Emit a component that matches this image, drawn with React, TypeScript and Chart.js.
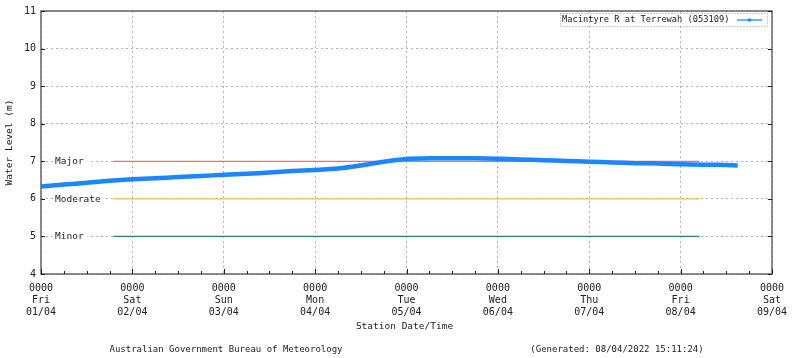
import React, { useEffect, useRef } from "react";
import { Chart, registerables } from "chart.js";

Chart.register(...registerables);

// Hours since 0000 Fri 01/04
const levelHours = [0, 6, 12, 18, 24, 30, 36, 42, 48, 54, 60, 66, 72, 78, 84, 90, 96, 102, 108, 114, 120, 126, 132, 138, 144, 150, 156, 162, 168, 174, 180, 183];
const levelValues = [6.33, 6.38, 6.43, 6.48, 6.52, 6.55, 6.58, 6.61, 6.64, 6.67, 6.70, 6.74, 6.77, 6.81, 6.89, 6.99, 7.06, 7.08, 7.08, 7.08, 7.07, 7.05, 7.03, 7.01, 6.99, 6.97, 6.95, 6.94, 6.92, 6.91, 6.90, 6.89];

const thresholdNames = ["Major", "Moderate", "Minor"];
const thresholdLevels = [7, 6, 5];
const thresholdColors = ["#ff6a6a", "#f2c040", "#2f8a55"];
const thresholdStart = 19;
const thresholdEnd = 173;

const dayNames = ["Fri", "Sat", "Sun", "Mon", "Tue", "Wed", "Thu", "Fri", "Sat"];
const dayDates = ["01/04", "02/04", "03/04", "04/04", "05/04", "06/04", "07/04", "08/04", "09/04"];
const timeLabel = "0000";

const seriesName = "Macintyre R at Terrewah (053109)";
const yTitle = "Water Level (m)";
const xTitle = "Station Date/Time";
const footerLeft = "Australian Government Bureau of Meteorology";
const footerRight = "(Generated: 08/04/2022 15:11:24)";

const FONT = "'DejaVu Sans Mono', 'Liberation Mono', monospace";
const BLUE = "#1a86ff";

export default function App() {
  const ref = useRef<HTMLCanvasElement | null>(null);

  useEffect(() => {
    document.body.style.margin = "0";
    const canvas = ref.current;
    if (!canvas) return;

    const decor = {
      id: "decor",
      beforeDatasetsDraw(chart: any) {
        const { ctx, chartArea } = chart;
        const y = chart.scales.y;
        ctx.save();
        ctx.font = `9.5px ${FONT}`;
        ctx.textBaseline = "middle";
        ctx.textAlign = "left";
        thresholdNames.forEach((n, i) => {
          const py = y.getPixelForValue(thresholdLevels[i]);
          const w = ctx.measureText(n).width;
          ctx.fillStyle = "#ffffff";
          ctx.fillRect(chartArea.left + 12, py - 5, w + 6, 10);
          ctx.fillStyle = "#222";
          ctx.fillText(n, chartArea.left + 14, py + 0.5);
        });
        ctx.restore();
      },
      afterDraw(chart: any) {
        const { ctx, chartArea } = chart;
        const x = chart.scales.x;
        const y = chart.scales.y;
        const { left, right, top, bottom } = chartArea;
        ctx.save();
        // frame
        ctx.strokeStyle = "#666";
        ctx.lineWidth = 1.5;
        ctx.strokeRect(left, top, right - left, bottom - top);
        // ticks
        ctx.strokeStyle = "#222";
        ctx.lineWidth = 1;
        for (let v = 4; v <= 11; v++) {
          const py = Math.round(y.getPixelForValue(v)) + 0.5;
          ctx.beginPath();
          ctx.moveTo(left, py);
          ctx.lineTo(left + 4, py);
          ctx.moveTo(right - 4, py);
          ctx.lineTo(right, py);
          ctx.stroke();
        }
        for (let h = 0; h <= 192; h += 6) {
          const px = Math.round(x.getPixelForValue(h)) + 0.5;
          const len = h % 24 === 0 ? 5 : 3;
          ctx.beginPath();
          ctx.moveTo(px, bottom);
          ctx.lineTo(px, bottom - len);
          ctx.stroke();
        }
        // legend
        ctx.font = `8.7px ${FONT}`;
        ctx.textBaseline = "middle";
        ctx.textAlign = "left";
        ctx.fillStyle = "#222";
        const tx = 562;
        const ly = 20;
        ctx.fillText(seriesName, tx, ly);
        ctx.strokeStyle = "#999";
        ctx.setLineDash([1, 2]);
        ctx.strokeRect(560.5, 13.5, 207, 13);
        ctx.setLineDash([]);
        ctx.strokeStyle = "#6ab4ff";
        ctx.lineWidth = 2;
        ctx.beginPath();
        ctx.moveTo(737, ly);
        ctx.lineTo(762, ly);
        ctx.stroke();
        ctx.fillStyle = BLUE;
        ctx.beginPath();
        ctx.arc(749.5, ly, 1.8, 0, Math.PI * 2);
        ctx.fill();
        // titles
        ctx.fillStyle = "#222";
        ctx.font = `9.5px ${FONT}`;
        ctx.textAlign = "center";
        ctx.fillText(xTitle, (left + right) / 2 - 2, 327);
        ctx.font = `9px ${FONT}`;
        ctx.fillText(footerLeft, 226, 350);
        ctx.fillText(footerRight, 617, 350);
        ctx.save();
        ctx.translate(10, (top + bottom) / 2);
        ctx.rotate(-Math.PI / 2);
        ctx.font = `9.5px ${FONT}`;
        ctx.fillText(yTitle, 0, 0);
        ctx.restore();
        ctx.restore();
      },
    };

    const thresholdSets = thresholdNames.map((n, i) => ({
      label: n,
      data: [
        { x: thresholdStart, y: thresholdLevels[i] },
        { x: thresholdEnd, y: thresholdLevels[i] },
      ],
      borderColor: thresholdColors[i],
      borderWidth: 1.3,
      pointRadius: 0,
      order: 2,
    }));

    const chart = new Chart(canvas, {
      type: "line",
      data: {
        datasets: [
          {
            label: seriesName,
            data: levelHours.map((h, i) => ({ x: h, y: levelValues[i] })),
            borderColor: BLUE,
            backgroundColor: BLUE,
            borderWidth: 4.5,
            pointRadius: 0,
            tension: 0.2,
            order: 1,
          },
          ...thresholdSets,
        ],
      },
      options: {
        animation: false,
        responsive: false,
        maintainAspectRatio: false,
        layout: { padding: { left: 0, right: 28, top: 11, bottom: 0 } },
        plugins: { legend: { display: false }, tooltip: { enabled: false } },
        scales: {
          x: {
            type: "linear",
            min: 0,
            max: 192,
            afterFit: (s: any) => {
              s.height = 84;
            },
            border: { display: false, dash: [2, 3] },
            grid: {
              drawTicks: false,
              color: (c: any) =>
                c.tick && c.tick.value % 24 === 0 ? "#b5b5b5" : "rgba(0,0,0,0)",
              lineWidth: 1,
            },
            ticks: {
              stepSize: 24,
              autoSkip: false,
              maxRotation: 0,
              padding: 8,
              color: "#222",
              font: { family: FONT, size: 10, lineHeight: 1.2 },
              callback: (v: any) => {
                const d = Math.round(Number(v) / 24);
                return [timeLabel, dayNames[d], dayDates[d]];
              },
            },
          },
          y: {
            min: 4,
            max: 11,
            afterFit: (s: any) => {
              s.width = 41;
            },
            border: { display: false, dash: [2, 3] },
            grid: { drawTicks: false, color: "#b5b5b5", lineWidth: 1 },
            ticks: {
              stepSize: 1,
              padding: 5,
              color: "#222",
              font: { family: FONT, size: 10 },
            },
          },
        },
      },
      plugins: [decor],
    });

    return () => chart.destroy();
  }, []);

  return (
    <div style={{ width: 800, height: 358, background: "#fff" }}>
      <canvas ref={ref} width={800} height={358} style={{ display: "block" }} />
    </div>
  );
}
